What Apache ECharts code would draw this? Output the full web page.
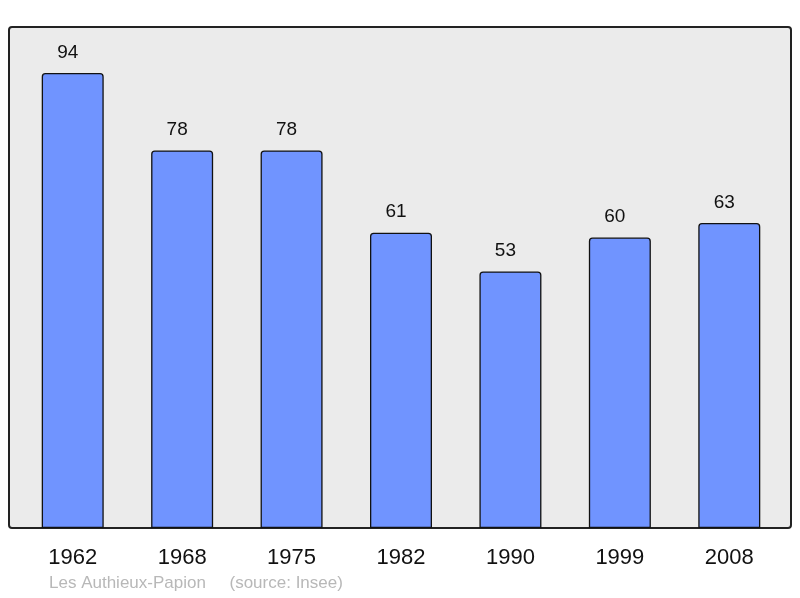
<!DOCTYPE html>
<html>
<head>
<meta charset="utf-8">
<script src="https://cdn.jsdelivr.net/npm/echarts@6/dist/echarts.min.js"></script>
<style>
  html, body { margin: 0; padding: 0; background: #fff; }
  #chart { width: 800px; height: 598px; }
</style>
</head>
<body>
<div id="chart"></div>
<script>
const years = ['1962', '1968', '1975', '1982', '1990', '1999', '2008']
const population = [94, 78, 78, 61, 53, 60, 63]
const footer = 'Les Authieux-Papion     (source: Insee)'

const chart = echarts.init(document.getElementById('chart'))
chart.setOption({
  animation: false,
  graphic: [
    {
      type: 'rect', z: -10,
      shape: { x: 9, y: 27, width: 782, height: 501, r: 3 },
      style: { fill: '#ebebeb', stroke: '#222', lineWidth: 2 }
    },
    {
      type: 'text', left: 49, top: 575,
      style: { text: footer, fill: '#b8b8b8', fontSize: 17, fontFamily: 'Liberation Sans' }
    }
  ],
  grid: { left: 18, right: 16, top: 27, bottom: 70 },
  xAxis: {
    type: 'category', data: years,
    axisLine: { show: false }, axisTick: { show: false },
    axisLabel: { color: '#111', fontSize: 22, margin: 19, fontFamily: 'Liberation Sans' }
  },
  yAxis: {
    type: 'value', min: 0, max: 103.5,
    show: false, splitLine: { show: false }
  },
  series: [{
    type: 'bar', data: population, barWidth: 62,
    itemStyle: { color: '#7094ff', borderColor: '#111', borderWidth: 1.3, borderRadius: [3, 3, 0, 0] },
    label: { show: true, position: 'top', distance: 11, offset: [-5, 0], color: '#111', fontSize: 19, fontFamily: 'Liberation Sans' }
  }]
})
</script>
</body>
</html>
